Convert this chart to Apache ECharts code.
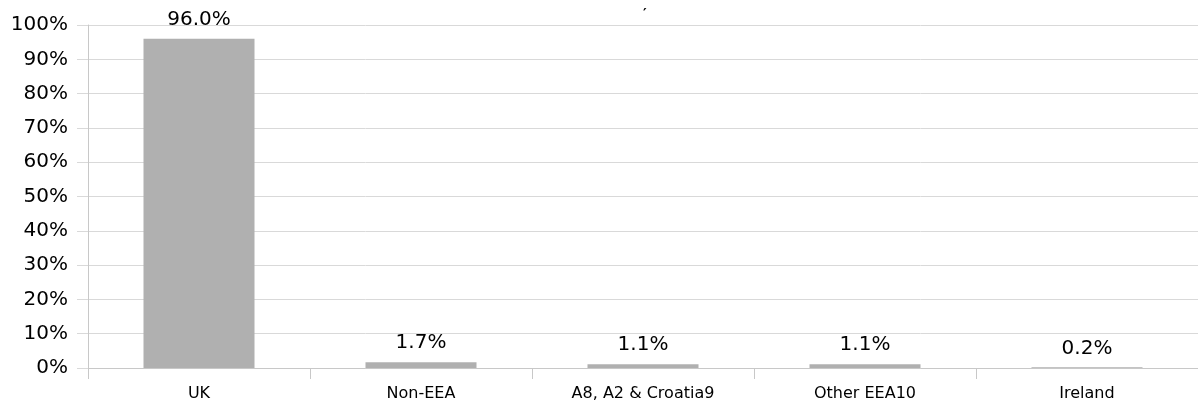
<!DOCTYPE html>
<html>
<head>
<meta charset="utf-8">
<script src="https://cdn.jsdelivr.net/npm/echarts@6/dist/echarts.min.js"></script>
<style>
  html, body { margin: 0; padding: 0; background: #ffffff; }
  #chart { width: 1198px; height: 405px; }
</style>
</head>
<body>
<div id="chart"></div>
<script>
// Share of workers by nationality group (%)
const categories = ['UK', 'Non-EEA', 'A8, A2 & Croatia9', 'Other EEA10', 'Ireland'];
const shares = [96.0, 1.7, 1.1, 1.1, 0.2];
const yTicks = [0, 10, 20, 30, 40, 50, 60, 70, 80, 90, 100];

const FONT = '"DejaVu Sans", sans-serif';
const GRID_GREY = '#d9d9d9';
const BAR_GREY = '#b0b0b0';

const chart = echarts.init(document.getElementById('chart'), null, { renderer: 'canvas' });

chart.setOption({
  animation: false,
  title: {
    text: '\u2032',
    left: 638,
    top: 2,
    textStyle: { fontFamily: FONT, fontSize: 14, fontWeight: 'bold', color: '#000' }
  },
  grid: { left: 88, right: 0, top: 25, bottom: 37, containLabel: false },
  xAxis: {
    type: 'category',
    data: categories,
    boundaryGap: true,
    axisLine: { show: true, lineStyle: { color: '#c8c8c8', width: 1 } },
    axisTick: { show: true, alignWithLabel: false, length: 11, lineStyle: { color: '#c8c8c8' } },
    axisLabel: { fontFamily: FONT, fontSize: 16, color: '#000', margin: 18 }
  },
  yAxis: {
    type: 'value',
    min: yTicks[0],
    max: yTicks[yTicks.length - 1],
    interval: 10,
    axisLine: { show: true, lineStyle: { color: '#c8c8c8', width: 1 } },
    axisTick: { show: true, length: 11, lineStyle: { color: GRID_GREY } },
    splitLine: { show: true, lineStyle: { color: GRID_GREY, width: 1 } },
    axisLabel: {
      fontFamily: FONT, fontSize: 20, color: '#000', margin: 20,
      formatter: v => v + '%'
    }
  },
  series: [{
    type: 'bar',
    data: shares,
    barWidth: '50%',
    itemStyle: { color: BAR_GREY },
    label: {
      show: true,
      position: 'top',
      distance: 9,
      fontFamily: FONT,
      fontSize: 20,
      color: '#000',
      formatter: p => p.value.toFixed(1) + '%'
    }
  }]
});
</script>
</body>
</html>
